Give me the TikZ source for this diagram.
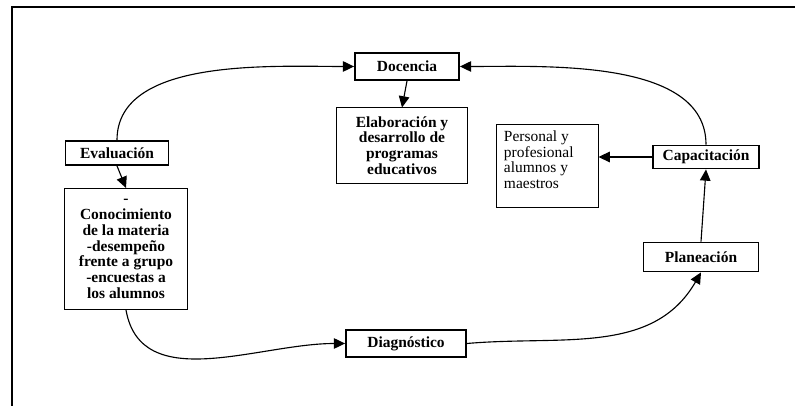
\documentclass[tikz,border=0pt]{standalone}
\usepackage{fontspec}
\setmainfont{Liberation Serif}
\usetikzlibrary{arrows.meta}

\tikzset{
   etapa/.style={draw,line width=1.3pt,inner sep=1pt,
      font=\bfseries\fontsize{11}{12}\selectfont},
   bloque/.style={draw,line width=0.7pt,align=center,inner sep=2pt,
      font=\bfseries\fontsize{11}{11.2}\selectfont},
   flecha/.style={line width=0.8pt,-{Triangle[length=8pt,width=7.5pt]}}
}

\begin{document}
\begin{tikzpicture}[x=0.025cm,y=0.025cm]
   \useasboundingbox (0,0) rectangle (795,406);
   \draw[line width=1.1pt] (12,0) -- (12,399) -- (795,399);

   % ciclo
   \node[etapa,minimum width=2.6cm,minimum height=0.675cm] (doc) at (407,339.5) {Docencia};
   \node[etapa,minimum width=2.65cm,minimum height=0.575cm] (capac) at (706,249) {Capacitación};
   \node[etapa,minimum width=2.875cm,minimum height=0.725cm] (plan) at (701,149) {Planeación};
   \node[etapa,minimum width=3cm,minimum height=0.675cm] (diag) at (406,62.5) {Diagnóstico};
   \node[etapa,minimum width=2.575cm,minimum height=0.6cm] (eval) at (117,253) {Evaluación};

   % cuadros
   \node[bloque,minimum width=3.25cm,minimum height=1.875cm] (elab) at (402,260.5)
      {Elaboración y\\ desarrollo de\\ programas\\ educativos};
   \node[draw,line width=0.7pt,inner xsep=0.2cm,inner ysep=0.15cm,
      font=\fontsize{11}{11}\selectfont] (pers) at (547,240)
      {\parbox[t][1.75cm][t]{2.15cm}{\raggedright Personal y\\ profesional\\ alumnos y\\ maestros}};
   \node[bloque,minimum width=3.05cm,minimum height=3.025cm] (conoc) at (126,157)
      {-\\ Conocimiento\\ de la materia\\ -desempeño\\ frente a grupo\\ -encuestas a\\ los alumnos};

   \draw[flecha] (eval.north) to[out=90,in=180,looseness=0.85] (doc.west);
   \draw[flecha] (capac.north) to[out=90,in=0,looseness=0.85] (doc.east);
   \draw[flecha] (doc.south) -- (elab.north);
   \draw[flecha] (capac.west) -- (pers.east |- capac.west);
   \draw[flecha] (plan.north) -- (capac.south);
   \draw[flecha] (diag.east) to[out=5,in=240] (plan.south);
   \draw[flecha] (conoc.south) to[out=-80,in=180] (diag.west);
   \draw[flecha] (eval.south) -- (conoc.north);
\end{tikzpicture}
\end{document}
